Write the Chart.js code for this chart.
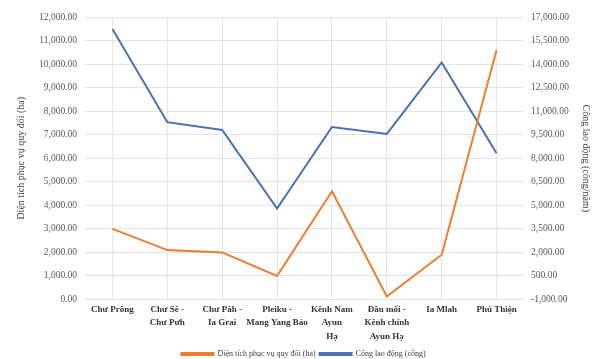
<!DOCTYPE html>
<html lang="vi">
<head>
  <meta charset="UTF-8" />
  <title>Diện tích phục vụ và công lao động</title>
  <script src="https://cdn.jsdelivr.net/npm/chart.js"></script>
  <style>
    * {
      margin: 0;
      padding: 0;
      box-sizing: border-box;
    }

    body {
      background-color: #ffffff;
    }

    #wrap {
      width: 598px;
      height: 359px;
    }
  </style>
</head>
<body>
  <div id="wrap">
    <canvas id="grafico" width="598" height="359"></canvas>
  </div>

<script>
  const categorias = [
    "Chư Prông",
    ["Chư Sê -", "Chư Pưh"],
    ["Chư Păh -", "Ia Grai"],
    ["Pleiku -", "Mang Yang Bảo"],
    ["Kênh Nam", "Ayun", "Hạ"],
    ["Đầu mối -", "Kênh chính", "Ayun Hạ"],
    "Ia Mlah",
    "Phú Thiện"
  ];

  const dienTich = [3000, 2100, 2000, 1000, 4600, 130, 1900, 10600];
  const congLaoDong = [16230, 10300, 9800, 4800, 9990, 9550, 14100, 8320];

  const nhanDienTich = "Diện tích phục vụ quy đổi (ha)";
  const nhanCong = "Công lao động (công)";
  const tieuDeTrai = "Diện tích phục vụ quy đổi (ha)";
  const tieuDePhai = "Công lao động (công/năm)";

  function formatarValor(valor) {
    return valor.toLocaleString("en-US", {
      minimumFractionDigits: 2,
      maximumFractionDigits: 2,
    });
  }

  const serif = "'Liberation Serif', 'DejaVu Serif', serif";
  const fonteTicks = { family: serif, size: 9.5 };

  const ctx = document.getElementById("grafico").getContext("2d");
  new Chart(ctx, {
    type: "line",
    data: {
      labels: categorias,
      datasets: [
        {
          label: nhanDienTich,
          data: dienTich,
          borderColor: "#ED7D31",
          backgroundColor: "#ED7D31",
          borderWidth: 2,
          pointRadius: 0,
          tension: 0,
          yAxisID: "y",
        },
        {
          label: nhanCong,
          data: congLaoDong,
          borderColor: "#4A6FB8",
          backgroundColor: "#4A6FB8",
          borderWidth: 2,
          pointRadius: 0,
          tension: 0,
          yAxisID: "y1",
        }
      ],
    },
    options: {
      responsive: false,
      animation: false,
      layout: {
        padding: { left: 11, right: 2, top: 17, bottom: -9 },
      },
      plugins: {
        legend: {
          position: "bottom",
          labels: {
            boxWidth: 32,
            boxHeight: 2,
            padding: 4,
            color: "#404040",
            font: { family: serif, size: 8 },
          },
        },
        tooltip: { enabled: false },
      },
      scales: {
        x: {
          offset: true,
          grid: { color: "#e6e6e6", drawTicks: false, offset: false },
          border: { display: false },
          ticks: {
            color: "#333333",
            font: { family: serif, size: 9, weight: "bold", lineHeight: 1.5 },
            maxRotation: 0,
            autoSkip: false,
            padding: 3,
          },
        },
        y: {
          position: "left",
          min: 0,
          max: 12000,
          ticks: {
            stepSize: 1000,
            color: "#595959",
            font: fonteTicks,
            padding: 8,
            callback: function (value) {
              return formatarValor(value);
            },
          },
          grid: { color: "#e3e3e3", drawTicks: false },
          border: { display: false },
          title: {
            display: true,
            text: tieuDeTrai,
            color: "#404040",
            font: { family: serif, size: 10 },
          },
        },
        y1: {
          position: "right",
          min: -1000,
          max: 17000,
          ticks: {
            stepSize: 1500,
            color: "#595959",
            font: fonteTicks,
            padding: 7,
            callback: function (value) {
              return formatarValor(value);
            },
          },
          grid: { drawOnChartArea: false, drawTicks: false },
          border: { display: false },
          title: {
            display: true,
            text: tieuDePhai,
            color: "#404040",
            font: { family: serif, size: 10 },
          },
        },
      },
    },
  });
</script>
</body>
</html>
